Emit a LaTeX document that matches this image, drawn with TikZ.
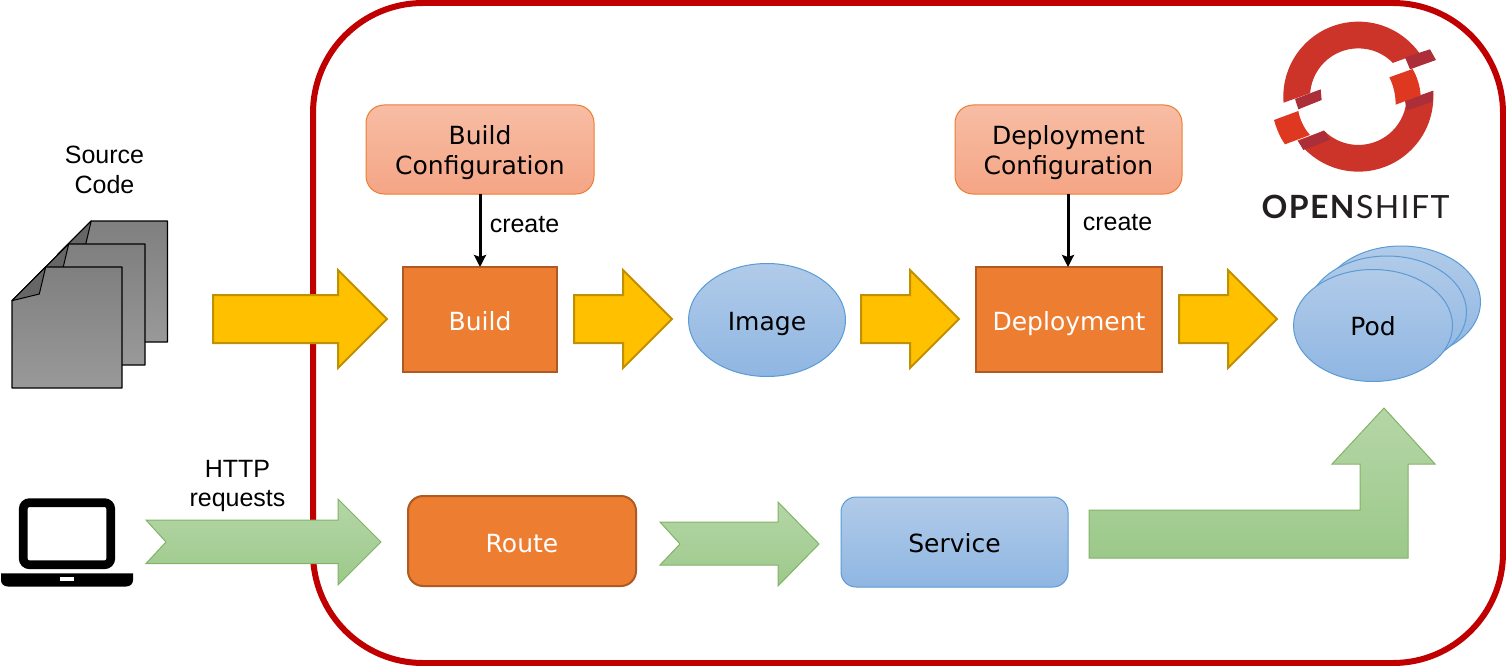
\documentclass[tikz,border=0pt]{standalone}
\usepackage{fontspec}
\setmainfont{DejaVu Sans}
\newfontfamily\arialf{Liberation Sans}
\newfontfamily\latof[LetterSpace=4.5]{Lato}
\usetikzlibrary{shapes.geometric,arrows.meta}
\definecolor{frameC}{HTML}{C00000}
\definecolor{orangeF}{HTML}{ED7D31}
\definecolor{orangeS}{HTML}{AE5A21}
\definecolor{yellowF}{HTML}{FFC000}
\definecolor{yellowS}{HTML}{BF9000}
\definecolor{blueS}{HTML}{5B9BD5}
\definecolor{blueT}{HTML}{B1CBE9}
\definecolor{blueB}{HTML}{8FB6E2}
\definecolor{peachT}{HTML}{F7BDA4}
\definecolor{peachB}{HTML}{F5A585}
\definecolor{greenT}{HTML}{B5D6A7}
\definecolor{greenB}{HTML}{9CC98A}
\definecolor{greenS}{HTML}{82B366}
\definecolor{ringC}{HTML}{CC3429}
\definecolor{ringD}{HTML}{AB2E38}
\definecolor{ringO}{HTML}{DF3821}
\definecolor{logoT}{HTML}{231F20}
\tikzset{
  txt/.style={font=\fontsize{25}{30}\selectfont,inner sep=0pt,outer sep=0pt},
  lbl/.style={font=\arialf\fontsize{25}{29.5}\selectfont,align=center,inner sep=0pt},
  orangebox/.style={draw=orangeS,line width=2pt,fill=orangeF},
  peachbox/.style={draw=orangeF,line width=1pt,top color=peachT,bottom color=peachB,rounded corners=18pt},
  bluefill/.style={draw=blueS,line width=1pt,top color=blueT,bottom color=blueB},
  yarrow/.style={draw=yellowS,line width=2pt,fill=yellowF,line join=miter},
  garrow/.style={draw=greenS,line width=1pt,top color=greenT,bottom color=greenB},
  docpage/.style={draw=black,line width=1.3pt,top color=black!50,bottom color=black!40,line join=round},
  docfold/.style={draw=black,line width=1pt,fill=black!60,line join=round},
  createarrow/.style={draw=black,line width=3pt,-{Stealth[length=12pt,width=12pt,inset=2pt]}},
}
\newcommand{\lift}[2]{\raisebox{-#1pt}[\height][\depth]{\begin{tabular}{@{}c@{}}#2\end{tabular}}}
\newcommand{\boxnode}[7]{% name, style, x1, y1, x2, y2, text
  \node[txt,#2,minimum width=#5pt-#3pt,minimum height=#6pt-#4pt,anchor=north west] (#1) at (#3,#4) {#7};}
\newcommand{\yellowarrow}[3]{% start x, head x, tip x
  \draw[yarrow] (#1,295) -- (#2,295) -- (#2,270) -- (#3,319) -- (#2,368) -- (#2,343) -- (#1,343) -- cycle;}
\newcommand{\docsheet}[2]{% shift
  \begin{scope}[shift={(#1,#2)}]
    \draw[docpage] (45.7,267) -- (122,267) -- (122,388) -- (12,388) -- (12,300.7) -- cycle;
    \draw[docfold] (45.7,267) -- (12,300.7) -- (39.3,294) -- cycle;
  \end{scope}}
\begin{document}
\begin{tikzpicture}[x=1pt,y=-1pt]
\useasboundingbox (0,0) rectangle (1506,666);
% frame
\draw[frameC,line width=6pt,rounded corners=110pt] (313,3) rectangle (1503,663);
% source documents
\docsheet{45.5}{-46}
\docsheet{23}{-23}
\docsheet{0}{0}
\node[lbl] (src) at (104.5,170) {Source\\Code};
% laptop
\draw[black,line width=8.7pt,rounded corners=6pt] (23.3,502.7) rectangle (110.7,564.7);
\fill[black] (1,573.3) -- (133,573.3) -- (133,580) .. controls (133,584) and (130,586.5) .. (126,586.5) -- (8,586.5) .. controls (4,586.5) and (1,584) .. (1,580) -- cycle;
\fill[white] (60,577.3) rectangle (74,580.7);
\node[lbl] (http) at (237.5,486) {HTTP\\requests};
% yellow arrows
\yellowarrow{213}{338}{387}
\yellowarrow{574}{623}{672}
\yellowarrow{861}{910}{959}
\yellowarrow{1179}{1228}{1277}
% green arrows
\draw[garrow] (146,520) -- (338,520) -- (338,499) -- (381,542) -- (338,585) -- (338,563.5) -- (146,563.5) -- (166,542) -- cycle;
\draw[garrow] (660,522) -- (778,522) -- (778,502) -- (819,544) -- (778,586) -- (778,565) -- (660,565) -- (680,544) -- cycle;
\draw[garrow] (1089,510) -- (1360,510) -- (1360,464) -- (1332,464) -- (1384,408) -- (1435,464) -- (1408,464) -- (1408,558) -- (1089,558) -- cycle;
% nodes
\boxnode{bcfg}{peachbox}{366}{105}{594}{194}{\lift{4}{Build\\Configuration}}
\boxnode{dcfg}{peachbox}{955}{105}{1182}{194}{\lift{4}{Deployment\\Configuration}}
\boxnode{build}{orangebox,text=white}{403}{267}{557}{372}{\lift{4.5}{Build}}
\boxnode{deploy}{orangebox,text=white}{976}{267}{1162}{372}{\lift{4.5}{Deployment}}
\boxnode{route}{orangebox,text=white,rounded corners=15pt}{408}{496}{636}{586}{\lift{5.5}{Route}}
\boxnode{service}{bluefill,rounded corners=15pt}{841}{497}{1068}{587}{\lift{4}{Service}}
\node[txt,bluefill,ellipse,minimum width=157pt,minimum height=113pt] (image) at (767,320) {\lift{4.5}{Image}};
\node[bluefill,ellipse,minimum width=159pt,minimum height=112pt,inner sep=0pt] (pod3) at (1401,302) {};
\node[bluefill,ellipse,minimum width=159pt,minimum height=112pt,inner sep=0pt] (pod2) at (1387,312) {};
\node[txt,bluefill,ellipse,minimum width=159pt,minimum height=112pt] (pod1) at (1373,325.5) {\lift{4}{Pod}};
% create arrows
\draw[createarrow] (bcfg.south -| build.north) -- (build.north);
\draw[createarrow] (dcfg.south -| 1068,0) -- (1068,0 |- deploy.north);
\node[lbl] (c1) at (524.5,225) {create};
\node[lbl] (c2) at (1117.5,223) {create};
% logo
\begin{scope}[shift={(1230,0)},x=0.3333pt,y=-0.3333pt]
  \begin{scope}
    \clip (100,40) -- (650,40) -- (650,120) -- (600,148) -- (272,268) -- (100,330) -- cycle;
    \fill[ringC,even odd rule] (385,290) circle[radius=75pt] (385,290) circle[radius=48.3pt];
  \end{scope}
  \begin{scope}
    \clip (100,540) -- (660,540) -- (660,255) -- (520,305) -- (282,392) -- (100,460) -- cycle;
    \fill[ringC,even odd rule] (385,290) circle[radius=75pt] (385,290) circle[radius=48.3pt];
  \end{scope}
  \fill[ringD] (525,172) -- (600,148) -- (618,180) -- (540,208) -- cycle;
  \fill[ringD] (525,302) -- (610,272) -- (608,305) -- (530,332) -- cycle;
  \fill[ringD] (195,297) -- (272,268) -- (275,300) -- (205,328) -- cycle;
  \fill[ringD] (205,425) -- (282,392) -- (300,420) -- (220,450) -- cycle;
  \fill[ringO] (478,232) -- (548,207) .. controls (562,232) and (570,258) .. (572,286) -- (497,314) .. controls (497,285) and (490,255) .. (478,232) -- cycle;
  \fill[ringO] (205,333) -- (132,360) .. controls (140,388) and (150,412) .. (165,433) -- (240,405) .. controls (222,385) and (210,360) .. (205,333) -- cycle;
\end{scope}
\node[inner sep=0pt,font=\latof\fontsize{32}{32}\selectfont,text=logoT] (logo) at (1355.5,207) {\textbf{OPEN}SHIFT};
\end{tikzpicture}
\end{document}
